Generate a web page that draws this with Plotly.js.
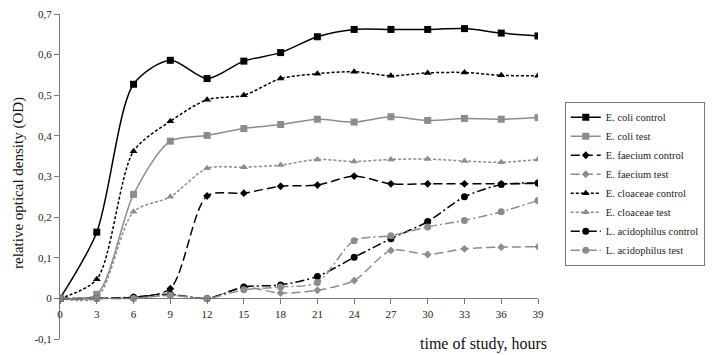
<!DOCTYPE html>
<html>
<head>
<meta charset="utf-8">
<script src="https://cdn.plot.ly/plotly-3.0.1.min.js"></script>
<style>
  html, body { margin: 0; padding: 0; background: #fff; }
  #chart { width: 722px; height: 355px; }
</style>
</head>
<body>
<div id="chart"></div>
<script>
const hours = [0, 3, 6, 9, 12, 15, 18, 21, 24, 27, 30, 33, 36, 39];
const seriesNames = ["E. coli control", "E. coli test", "E. faecium control", "E. faecium test",
  "E. cloaceae control", "E. cloaceae test", "L. acidophilus control", "L. acidophilus test"];
const ecoliControl = [0, 0.163, 0.527, 0.586, 0.541, 0.584, 0.605, 0.644, 0.662, 0.662, 0.662, 0.664, 0.653, 0.646];
const ecoliTest = [0, 0.010, 0.256, 0.387, 0.401, 0.418, 0.428, 0.441, 0.434, 0.447, 0.438, 0.443, 0.441, 0.445];
const faeciumControl = [0, 0, 0.003, 0.024, 0.252, 0.259, 0.276, 0.279, 0.301, 0.282, 0.282, 0.282, 0.282, 0.283];
const faeciumTest = [0, 0, 0, 0.008, 0, 0.027, 0.013, 0.020, 0.044, 0.118, 0.108, 0.122, 0.126, 0.127];
const cloacaeControl = [0, 0.047, 0.362, 0.436, 0.489, 0.500, 0.541, 0.553, 0.558, 0.548, 0.555, 0.556, 0.549, 0.548];
const cloacaeTest = [0, 0.002, 0.213, 0.250, 0.320, 0.323, 0.328, 0.342, 0.337, 0.342, 0.343, 0.338, 0.335, 0.342];
const acidControl = [0, 0, 0.003, 0.010, 0, 0.028, 0.033, 0.054, 0.101, 0.147, 0.189, 0.250, 0.280, 0.284];
const acidTest = [0, 0, 0, 0.008, 0, 0.021, 0.028, 0.039, 0.142, 0.154, 0.176, 0.192, 0.213, 0.241];
const yTickVals = [-0.1, 0, 0.1, 0.2, 0.3, 0.4, 0.5, 0.6, 0.7];
const yTickText = ["-0,1", "0", "0,1", "0,2", "0,3", "0,4", "0,5", "0,6", "0,7"];

const BLACK = "#000000";
const GRAY = "#8c8c8c";
const values = [ecoliControl, ecoliTest, faeciumControl, faeciumTest, cloacaeControl, cloacaeTest, acidControl, acidTest];
const styles = [
  {c: BLACK, dash: "solid", sym: "square", size: 7},
  {c: GRAY, dash: "solid", sym: "square", size: 7},
  {c: BLACK, dash: "9px,4px", sym: "diamond", size: 6},
  {c: GRAY, dash: "9px,4px", sym: "diamond", size: 6},
  {c: BLACK, dash: "3px,2px", sym: "triangle-up", size: 7},
  {c: GRAY, dash: "3px,2px", sym: "triangle-up", size: 7},
  {c: BLACK, dash: "9px,3px,2px,3px", sym: "circle", size: 7},
  {c: GRAY, dash: "9px,3px,2px,3px", sym: "circle", size: 7}
];

const traces = values.map((v, i) => ({
  x: hours, y: v, name: seriesNames[i], type: "scatter", mode: "lines+markers",
  line: {color: styles[i].c, width: 1.5, dash: styles[i].dash, shape: "spline", smoothing: 0.8},
  marker: {color: styles[i].c, symbol: styles[i].sym, size: styles[i].size}
}));

const serif = "Liberation Serif, DejaVu Serif, serif";
const layout = {
  width: 722, height: 355,
  margin: {l: 60, r: 184, t: 14, b: 16},
  paper_bgcolor: "#fff", plot_bgcolor: "#fff",
  font: {family: serif, size: 11, color: "#222"},
  showlegend: true,
  legend: {
    x: 1.056, y: 0.73, xanchor: "left", yanchor: "top",
    bordercolor: "#777", borderwidth: 1, bgcolor: "#fff",
    font: {family: serif, size: 10.5, color: "#222"},
    itemwidth: 30, tracegroupgap: 0
  },
  xaxis: {
    range: [0, 39], tickvals: hours, ticks: "outside", ticklen: 5, tickcolor: "#777",
    showline: true, linecolor: "#777", linewidth: 1, showgrid: false, zeroline: false,
    anchor: "free", position: 0.125, tickfont: {family: serif, size: 11, color: "#222"}
  },
  yaxis: {
    range: [-0.1, 0.7], tickvals: yTickVals, ticktext: yTickText, ticks: "outside", ticklen: 5,
    tickcolor: "#777", showline: true, linecolor: "#777", linewidth: 1, showgrid: false, zeroline: false,
    tickfont: {family: serif, size: 11, color: "#222"}
  },
  annotations: [
    {text: "relative optical density (OD)", xref: "paper", yref: "paper", x: -0.088, y: 0.48,
     textangle: -90, showarrow: false, xanchor: "center", yanchor: "middle",
     font: {family: serif, size: 15, color: "#111"}},
    {text: "time of study, hours", xref: "paper", yref: "paper", x: 0.885, y: -0.015,
     showarrow: false, xanchor: "center", yanchor: "middle",
     font: {family: serif, size: 16, color: "#111"}}
  ]
};

Plotly.newPlot("chart", traces, layout, {displayModeBar: false, staticPlot: true});
</script>
</body>
</html>
